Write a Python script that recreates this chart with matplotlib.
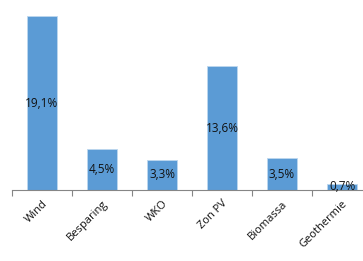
import matplotlib
matplotlib.use('Agg')
import matplotlib.pyplot as plt
import numpy as np

# data
categories = ['Wind', 'Besparing', 'WKO', 'Zon PV', 'Biomassa', 'Geothermie']
values = [19.1, 4.5, 3.3, 13.6, 3.5, 0.7]
labels = ['19,1%', '4,5%', '3,3%', '13,6%', '3,5%', '0,7%']

plt.rcParams['font.family'] = ['Open Sans', 'DejaVu Sans']

fig = plt.figure(figsize=(3.63, 2.61), dpi=100)
# axes runs a bit past the right edge, as in the original
ax = fig.add_axes([12/363, 71/261, 360/363, 182/261])

x = np.arange(len(categories))
bars = ax.bar(x, values, width=0.5, color='#5B9BD5', edgecolor='#BDD7EE', linewidth=0.6)

for xi, v, lab in zip(x, values, labels):
    ax.text(xi, v/2, lab, ha='center', va='center', fontsize=8.5, color='#111111')

ax.set_xlim(-0.5, 5.5)
ax.set_ylim(0, 20)
ax.set_yticks([])

ax.set_xticks(x)
ax.set_xticklabels(categories, rotation=45, ha='right', rotation_mode='anchor',
                   fontsize=8, color='#111111')
ax.tick_params(axis='x', which='major', length=0, pad=6)
ax.set_xticks(np.arange(-0.5, 6, 1), minor=True)
ax.tick_params(axis='x', which='minor', length=4, color='#868686', width=0.8)

for s in ['top', 'right', 'left']:
    ax.spines[s].set_visible(False)
ax.spines['bottom'].set_color('#868686')
ax.spines['bottom'].set_linewidth(0.8)
ax.patch.set_visible(False)

fig.savefig('out.png', dpi=100)
